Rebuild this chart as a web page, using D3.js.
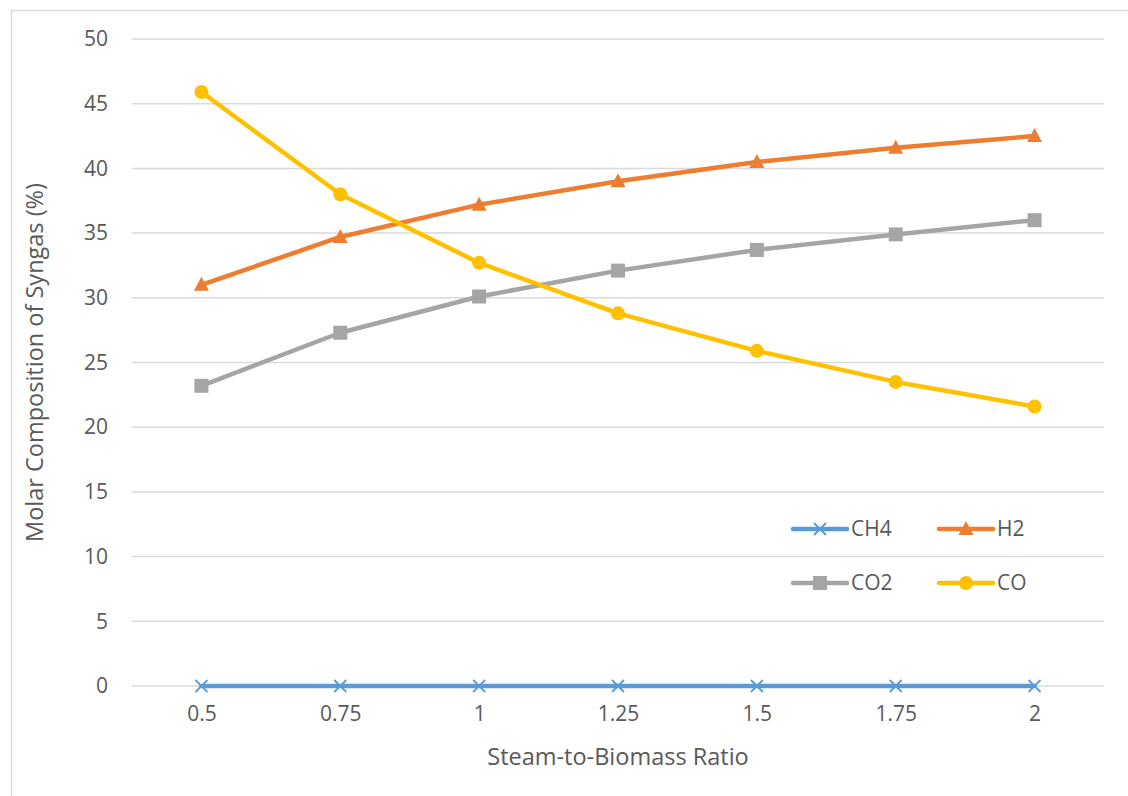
<!DOCTYPE html>
<html>
<head>
<meta charset="utf-8">
<script src="https://cdn.jsdelivr.net/npm/d3@7"></script>
<style>
  html, body { margin: 0; padding: 0; background: #fff; }
  svg { display: block; }
  text { font-family: "Open Sans", Lato, sans-serif; fill: #595959; }
</style>
</head>
<body>
<svg id="chart" width="1128" height="796"></svg>
<script>
// Steam-to-biomass ratios on the category axis
const ratios = ["0.5", "0.75", "1", "1.25", "1.5", "1.75", "2"];
// Molar composition of syngas (%) per species
const ch4 = [0, 0, 0, 0, 0, 0, 0];
const h2  = [31.0, 34.7, 37.2, 39.0, 40.5, 41.6, 42.5];
const co2 = [23.2, 27.3, 30.1, 32.1, 33.7, 34.9, 36.0];
const co  = [45.9, 38.0, 32.7, 28.8, 25.9, 23.5, 21.6];
const yTicks = [0, 5, 10, 15, 20, 25, 30, 35, 40, 45, 50];

const series = [
  { name: "CH4", values: ch4, color: "#5b9bd5", marker: "x" },
  { name: "H2",  values: h2,  color: "#ed7d31", marker: "triangle" },
  { name: "CO2", values: co2, color: "#a5a5a5", marker: "square" },
  { name: "CO",  values: co,  color: "#ffc000", marker: "circle" }
];

const FONT = "'Open Sans', Lato, sans-serif";
const svg = d3.select("#chart");
const plot = { left: 132, right: 1104, top: 39, bottom: 686 };

// outer chart frame
svg.append("rect")
  .attr("x", 11.5).attr("y", 10.5)
  .attr("width", 1140).attr("height", 800)
  .attr("fill", "none").attr("stroke", "#d9d9d9").attr("stroke-width", 1.5);

const x = d3.scalePoint().domain(ratios).range([plot.left, plot.right]).padding(0.5);
const y = d3.scaleLinear().domain([0, 50]).range([plot.bottom, plot.top]);

// horizontal gridlines
svg.append("g").selectAll("line").data(yTicks).join("line")
  .attr("x1", plot.left).attr("x2", plot.right)
  .attr("y1", d => y(d)).attr("y2", d => y(d))
  .attr("stroke", "#d9d9d9").attr("stroke-width", 1.5);

// y axis labels
const yAxis = svg.append("g")
  .attr("transform", `translate(${plot.left},0)`)
  .call(d3.axisLeft(y).tickValues(yTicks).tickSize(0).tickPadding(24));
yAxis.select(".domain").remove();
yAxis.selectAll("text").style("font-size", "21px").attr("fill", "#595959")
  .style("font-family", FONT);

// x axis labels
const xAxis = svg.append("g")
  .attr("transform", `translate(0,${plot.bottom})`)
  .call(d3.axisBottom(x).tickSize(0).tickPadding(20));
xAxis.select(".domain").remove();
xAxis.selectAll("text").style("font-size", "21px").attr("fill", "#595959")
  .style("font-family", FONT);

// axis titles
svg.append("text")
  .attr("x", (plot.left + plot.right) / 2).attr("y", 765)
  .attr("text-anchor", "middle").style("font-size", "23.5px")
  .text("Steam-to-Biomass Ratio");
svg.append("text")
  .attr("transform", `translate(43,${(plot.top + plot.bottom) / 2}) rotate(-90)`)
  .attr("text-anchor", "middle").style("font-size", "23.5px")
  .text("Molar Composition of Syngas (%)");

function drawMarker(g, type, color) {
  if (type === "circle") {
    g.append("circle").attr("r", 7).attr("fill", color);
  } else if (type === "square") {
    g.append("rect").attr("x", -7).attr("y", -7).attr("width", 14).attr("height", 14).attr("fill", color);
  } else if (type === "triangle") {
    g.append("path").attr("d", "M0,-8L7.5,6L-7.5,6Z").attr("fill", color);
  } else if (type === "x") {
    g.append("path").attr("d", "M-6,-6L6,6M-6,6L6,-6")
      .attr("stroke", color).attr("stroke-width", 1.8).attr("fill", "none");
  }
}

const line = d3.line().x((d, i) => x(ratios[i])).y(d => y(d));

// series lines and markers
series.forEach(s => {
  svg.append("path")
    .datum(s.values)
    .attr("d", line)
    .attr("fill", "none")
    .attr("stroke", s.color)
    .attr("stroke-width", 4.5)
    .attr("stroke-linejoin", "round")
    .attr("stroke-linecap", "round");
  s.values.forEach((v, i) => {
    const g = svg.append("g").attr("transform", `translate(${x(ratios[i])},${y(v)})`);
    drawMarker(g, s.marker, s.color);
  });
});

// legend, two columns by two rows
const legendPos = [
  { x: 793, y: 529 }, { x: 939, y: 529 },
  { x: 793, y: 583 }, { x: 939, y: 583 }
];
series.forEach((s, i) => {
  const p = legendPos[i];
  const g = svg.append("g").attr("transform", `translate(${p.x},${p.y})`);
  g.append("line").attr("x1", 0).attr("x2", 54).attr("y1", 0).attr("y2", 0)
    .attr("stroke", s.color).attr("stroke-width", 4.5).attr("stroke-linecap", "round");
  const m = g.append("g").attr("transform", "translate(27,0)");
  drawMarker(m, s.marker, s.color);
  g.append("text").attr("x", 58).attr("y", 0).attr("dy", "0.35em")
    .style("font-size", "21px").text(s.name);
});
</script>
</body>
</html>
